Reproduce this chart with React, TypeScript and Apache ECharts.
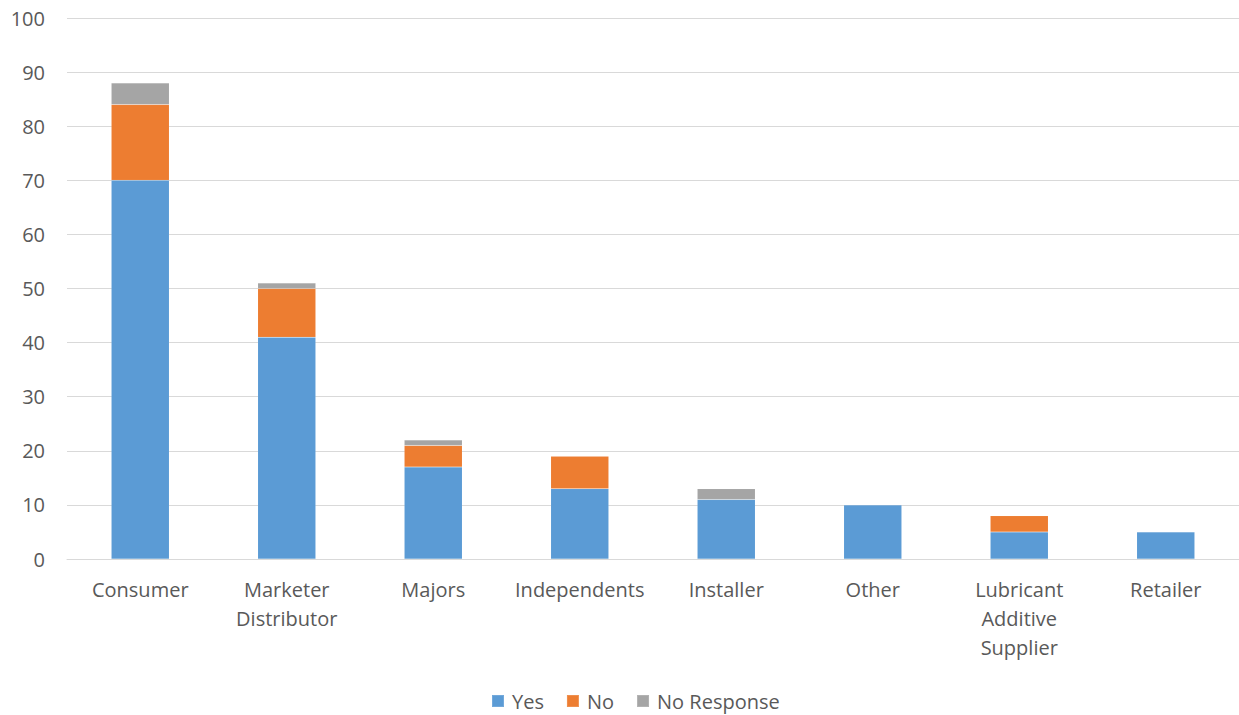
import React, { useEffect, useRef } from "react";
import * as echarts from "echarts";

const categories = [
  "Consumer",
  "Marketer\nDistributor",
  "Majors",
  "Independents",
  "Installer",
  "Other",
  "Lubricant\nAdditive\nSupplier",
  "Retailer",
];
const yesValues = [70, 41, 17, 13, 11, 10, 5, 5];
const noValues = [14, 9, 4, 6, 0, 0, 3, 0];
const noResponseValues = [4, 1, 1, 0, 2, 0, 0, 0];
const yTicks = { min: 0, max: 100, interval: 10 };

const FONT = "'Open Sans', 'Liberation Sans', sans-serif";
const TEXT = "#595959";

export default function App() {
  const ref = useRef<HTMLDivElement>(null);
  useEffect(() => {
    if (!ref.current) return;
    const chart = echarts.init(ref.current, undefined, { renderer: "svg" });
    const mk = (name: string, data: number[], color: string) => ({
      name,
      type: "bar",
      stack: "total",
      data: data.map((v) => (v === 0 ? null : v)),
      barWidth: 58,
      itemStyle: { color, borderColor: "rgba(255,255,255,0.15)", borderWidth: 0.5 },
    });
    chart.setOption({
      animation: false,
      textStyle: { fontFamily: FONT },
      grid: { left: 67, right: 0, top: 18, bottom: 156, containLabel: false },
      legend: {
        top: 690,
        left: 491,
        padding: 0,
        itemWidth: 12,
        itemHeight: 12,
        itemGap: 22,
        icon: "rect",
        textStyle: {
          color: TEXT,
          fontSize: 20,
          fontFamily: FONT,
          lineHeight: 22,
          padding: [0, 0, 0, 3],
        },
        data: ["Yes", "No", "No Response"],
      },
      xAxis: {
        type: "category",
        data: categories,
        axisLine: { lineStyle: { color: "#d9d9d9", width: 1 } },
        axisTick: { show: false },
        axisLabel: {
          color: TEXT,
          fontSize: 20,
          fontFamily: FONT,
          lineHeight: 29,
          margin: 16,
          interval: 0,
        },
      },
      yAxis: {
        type: "value",
        min: yTicks.min,
        max: yTicks.max,
        interval: yTicks.interval,
        axisLine: { show: false },
        axisTick: { show: false },
        splitLine: { lineStyle: { color: "#d9d9d9", width: 1 } },
        axisLabel: { color: TEXT, fontSize: 20, fontFamily: FONT, margin: 22 },
      },
      series: [
        mk("Yes", yesValues, "#5b9bd5"),
        mk("No", noValues, "#ed7d31"),
        mk("No Response", noResponseValues, "#a5a5a5"),
      ],
    });
    return () => chart.dispose();
  }, []);
  return (
    <div
      ref={ref}
      style={{ position: "fixed", left: 0, top: 0, width: 1239, height: 715, background: "#fff" }}
    />
  );
}
